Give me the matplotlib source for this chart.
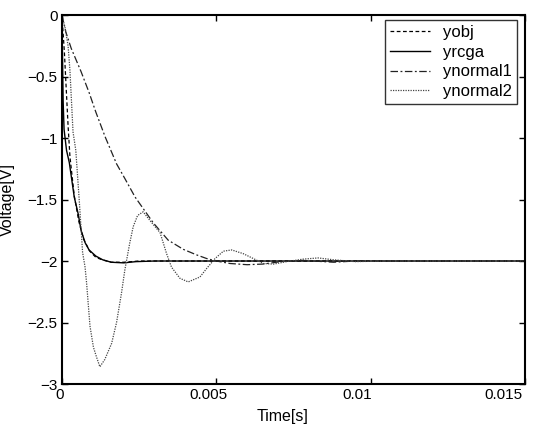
import matplotlib
matplotlib.use("Agg")
import matplotlib.pyplot as plt
from matplotlib.transforms import ScaledTranslation

plt.rcParams['font.family'] = ['Liberation Sans', 'DejaVu Sans']

# yobj (dashed)
t_obj = [0, 0.00004, 0.00008, 0.00013, 0.0002, 0.00026, 0.0004, 0.00055, 0.0007,
         0.0009, 0.0011, 0.0013, 0.0016, 0.002, 0.0025, 0.003, 0.015]
v_obj = [0, -0.15, -0.3, -0.55, -0.9, -1.15, -1.47, -1.68, -1.82,
         -1.92, -1.97, -1.99, -2.01, -2.01, -2.0, -2.0, -2.0]

# yrcga (solid)
t_rcga = [0, 0.00002, 0.00004, 0.00007, 0.00015, 0.00024, 0.0004, 0.00053, 0.00062,
          0.00075, 0.00088, 0.0011, 0.00132, 0.0016, 0.002, 0.0024, 0.003, 0.015]
v_rcga = [0, -0.35, -0.7, -0.93, -1.1, -1.2, -1.48, -1.62, -1.75,
          -1.85, -1.91, -1.96, -1.99, -2.01, -2.015, -2.005, -2.0, -2.0]

# ynormal1 (dash-dot)
t_n1 = [0, 0.00013, 0.0003, 0.00062, 0.00088, 0.0011, 0.0014, 0.00177, 0.00204,
        0.00237, 0.00296, 0.00344, 0.00393, 0.00436, 0.00469, 0.0050, 0.00544,
        0.006, 0.0065, 0.0071, 0.0078, 0.0088, 0.0095, 0.011, 0.015]
v_n1 = [0, -0.14, -0.27, -0.46, -0.63, -0.79, -0.99, -1.21, -1.33,
        -1.48, -1.69, -1.83, -1.905, -1.95, -1.98, -2.0, -2.02,
        -2.03, -2.025, -2.005, -1.995, -2.01, -2.0, -2.0, -2.0]

# ynormal2 (dotted)
t_n2 = [0, 0.0001, 0.0002, 0.00026, 0.00036, 0.00045, 0.00056, 0.00067, 0.00075,
        0.0008, 0.00085, 0.00091, 0.00102, 0.00112, 0.00123, 0.00139, 0.00161,
        0.00177, 0.00193, 0.00204, 0.0022, 0.00231, 0.00245, 0.00263, 0.00285,
        0.00318, 0.00339, 0.00355, 0.00382, 0.00409, 0.00447, 0.00469, 0.00496,
        0.00523, 0.0055, 0.00587, 0.0062, 0.00652, 0.00685, 0.00728, 0.0078,
        0.0083, 0.0088, 0.0095, 0.0105, 0.015]
v_n2 = [0, -0.1, -0.25, -0.45, -0.95, -1.1, -1.5, -1.93, -2.05,
        -2.18, -2.34, -2.53, -2.7, -2.78, -2.86, -2.8, -2.67,
        -2.5, -2.26, -2.07, -1.85, -1.72, -1.63, -1.6, -1.67,
        -1.77, -1.94, -2.05, -2.14, -2.17, -2.13, -2.06, -1.98,
        -1.92, -1.91, -1.94, -1.98, -2.02, -2.025, -2.005, -1.985,
        -1.975, -1.99, -2.005, -2.0, -2.0]

labels = ['yobj', 'yrcga', 'ynormal1', 'ynormal2']
x_ticks = [0, 0.005, 0.01, 0.015]
x_ticklabels = ['0', '0.005', '0.01', '0.015']
y_ticks = [0, -0.5, -1, -1.5, -2, -2.5, -3]
y_ticklabels = ['0', '\u22120.5', '\u22121', '\u22121.5', '\u22122', '\u22122.5', '\u22123']

fig = plt.figure(figsize=(5.43, 4.24), dpi=100)
ax = fig.add_axes([0.114, 0.0943, 0.853, 0.8703])

ax.plot(t_obj, v_obj, linestyle=(0, (3, 2)), color='black', lw=0.9, label=labels[0])
ax.plot(t_rcga, v_rcga, linestyle='-', color='black', lw=1.0, label=labels[1])
ax.plot(t_n1, v_n1, linestyle=(0, (6, 2, 1.5, 2)), color='#222222', lw=0.9, label=labels[2])
ax.plot(t_n2, v_n2, linestyle=(0, (1, 1)), color='#444444', lw=0.9, label=labels[3])

ax.set_xlim(0, 0.015)
ax.set_ylim(-3, 0)
ax.set_xticks(x_ticks)
ax.set_xticklabels(x_ticklabels)
ax.set_yticks(y_ticks)
ax.set_yticklabels(y_ticklabels)
ax.tick_params(direction='in', top=True, right=True, length=4, width=1,
               labelsize=11, pad=3)
for s in ax.spines.values():
    s.set_linewidth(1.5)

# the printed tick labels sit slightly left of their ticks (scan look)
for lab, shift_px in zip(ax.get_xticklabels(), [-2, -8, -14, -22]):
    lab.set_transform(lab.get_transform() +
                      ScaledTranslation(shift_px / 100.0, 0, fig.dpi_scale_trans))

ax.set_xlabel('Time[s]', fontsize=11.5)
ax.set_ylabel('Voltage[V]', fontsize=11.5)
ax.xaxis.set_label_coords(0.476, -0.068)
ax.yaxis.set_label_coords(-0.102, 0.5)

leg = ax.legend(loc='upper right', fontsize=12, frameon=True, fancybox=False,
                edgecolor='black', borderaxespad=0.3, handlelength=2.4,
                labelspacing=0.28, borderpad=0.3, handletextpad=0.8,
                bbox_to_anchor=(0.994, 1.0))
leg.get_frame().set_linewidth(1.0)

fig.savefig('out.png', dpi=100)
